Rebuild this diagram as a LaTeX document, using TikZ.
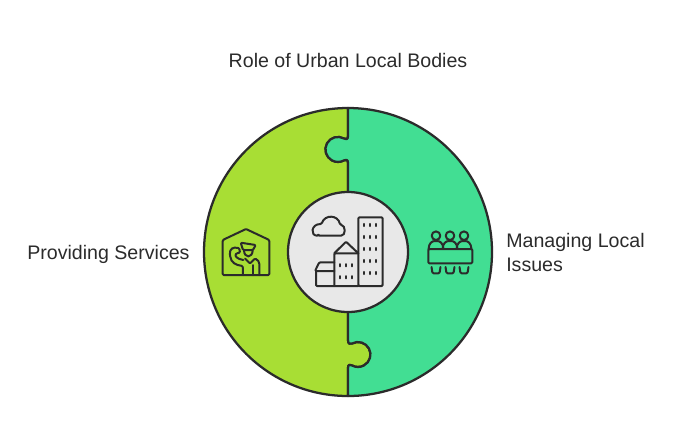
\documentclass[tikz,border=0pt]{standalone}
\usepackage{fontspec}
\setmainfont{Liberation Sans}
\definecolor{limepiece}{HTML}{A8DE34}
\definecolor{greenpiece}{HTML}{42DE93}
\definecolor{hubgray}{HTML}{E8E8E8}
\definecolor{ink}{HTML}{2B2B2B}
\tikzstyle{piece}=[draw=ink,line width=1.7pt,line join=round]
\tikzstyle{hub}=[circle,fill=hubgray,draw=ink,line width=1.7pt,minimum size=90pt,inner sep=0pt]
\tikzstyle{icon}=[draw=ink,line width=1.5pt,line join=round,line cap=round,rounded corners=0.8pt]
\tikzstyle{windowdot}=[draw=ink,line width=1.4pt,line cap=round]
\tikzstyle{caption}=[font=\fontsize{14.7}{18}\selectfont,text=ink,inner sep=0pt]
\def\seam{(348,108) -- (348,136) .. controls (348,139.5) and (346,140) .. (344,138.5)
    arc (-61:-299:12.5) .. controls (346,159) and (348,159.5) .. (348,163)
    -- (348,340) .. controls (348,343.5) and (350,345) .. (352,343.5)
    arc (-118.6:118.6:12.5) .. controls (350,364) and (348,364.5) .. (348,368) -- (348,396)}
\begin{document}
\begin{tikzpicture}[x=0.75pt,y=-0.75pt]
    \useasboundingbox (0,0) rectangle (684,444);

    % Two halves of the ring
    \path[piece,fill=limepiece] \seam arc (90:270:144) -- cycle;
    \path[piece,fill=greenpiece] \seam arc (90:-90:144) -- cycle;
    \node[hub] (hub) at (348,252) {};

    % City in the middle
    \draw[icon] (318.3,235.7) -- (340,235.7) .. controls (346,235.7) and (346,225.5) .. (340,224.5)
        .. controls (338,215) and (325,214) .. (321.5,224) .. controls (311,224) and (310,235.7) .. (318.3,235.7) -- cycle;
    \draw[icon] (358.3,286) -- (358.3,217.3) -- (382.7,217.3) -- (382.7,286) -- cycle;
    \draw[icon] (334.3,286) -- (334.3,253.3) -- (358.3,253.3);
    \draw[icon] (334.3,253.3) -- (346,241.7) -- (358.3,253.3);
    \draw[icon] (334.3,262.3) -- (319.3,262.3) -- (315,271) -- (334.3,271);
    \draw[icon] (316,271) -- (316,286) -- (358.3,286);
    \foreach \x in {364.3,370.3,376.3}
        \foreach \y in {225,237,249,261,273}
            \draw[windowdot] (\x,\y-1.2) -- (\x,\y+1.2);
    \foreach \x in {340.3,346.3,352.3}
        \foreach \y in {265.3,277.3}
            \draw[windowdot] (\x,\y-1.2) -- (\x,\y+1.2);

    % Guard in the house
    \draw[icon] (222.7,240) -- (246,229) -- (269.3,240) -- (269.3,275) -- (222.7,275) -- cycle;
    \draw[icon] (240.7,242.7) -- (255.7,245) -- (253,250) -- (243,250) -- cycle;
    \draw[icon] (244,250) .. controls (244,258.5) and (252.7,258.5) .. (252.7,250);
    \draw[icon] (243,275) -- (242.7,266) .. controls (236,265) and (231,263) .. (230,255)
        .. controls (229.5,249) and (233,246.5) .. (239.3,248.3) -- (240,252.7) -- (236.5,253.3)
        .. controls (234.5,256) and (237,259) .. (243.3,260);
    \draw[icon] (245,258.5) -- (250,263.5) -- (255,258.5) .. controls (258,260) and (259.3,262) .. (259.3,265) -- (259.3,275);
    \draw[icon] (253,265) -- (253,275);

    % People at the table
    \draw[icon] (428.3,249) rectangle (472.3,263.3);
    \foreach \x in {436,450,464} {
        \draw[icon] (\x,235.7) circle (4.3);
        \draw[icon] (\x-7.5,249) .. controls (\x-7,243) and (\x-4,241) .. (\x,241) .. controls (\x+4,241) and (\x+7,243) .. (\x+7.5,249);
        \draw[icon] (\x-4.5,267) -- (\x-3.5,273.3) -- (\x+3.5,273.3) -- (\x+4.5,267);
    }

    % Labels
    \node[caption] (title) at (348,60) {Role of Urban Local Bodies};
    \node[caption,anchor=west] (services) at (27,254) {Providing Services};
    \node[caption,anchor=west,align=left] (issues) at (506,252) {Managing Local\\Issues};
\end{tikzpicture}
\end{document}
